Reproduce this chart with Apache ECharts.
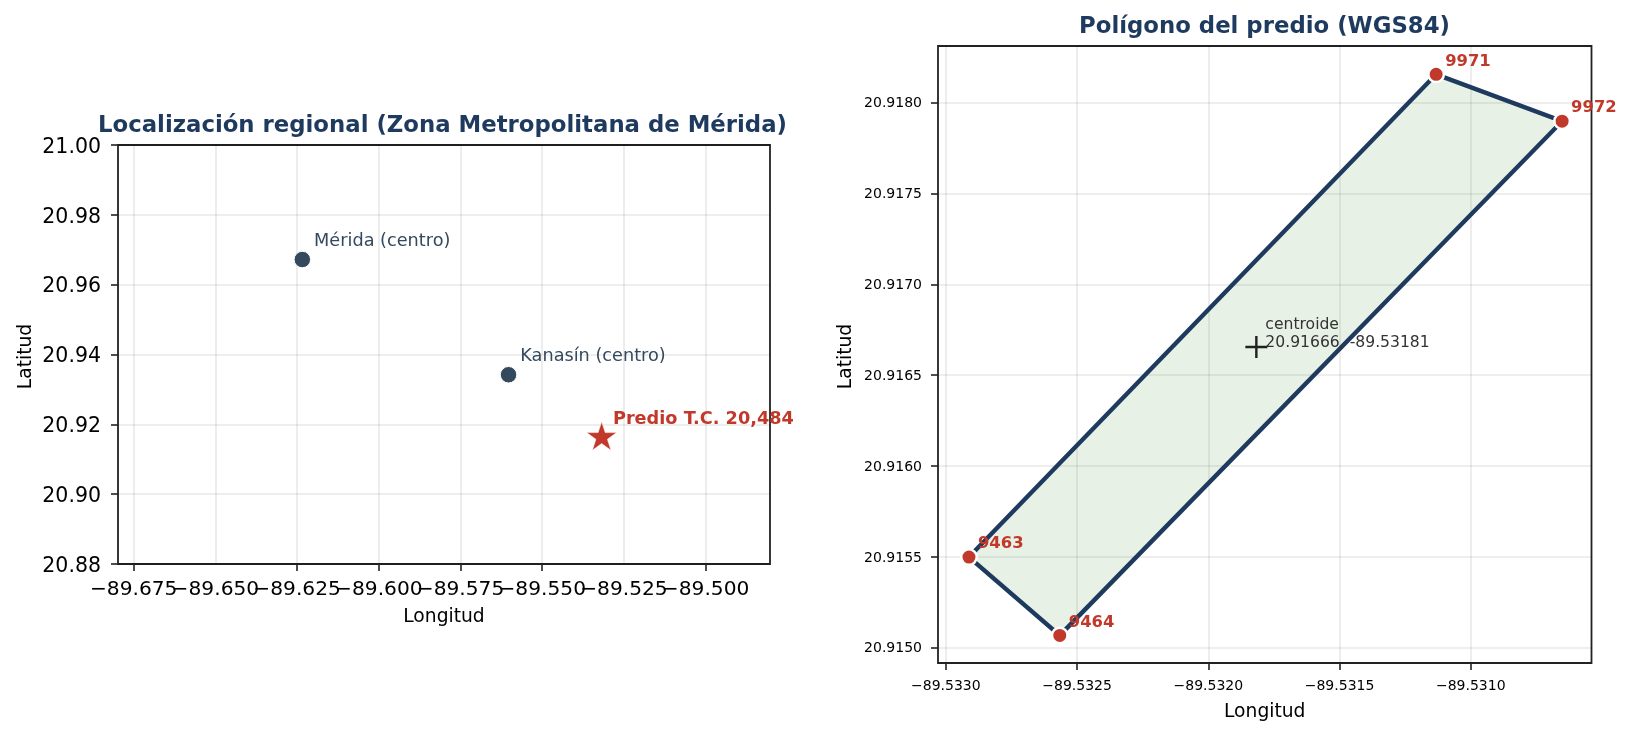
<!DOCTYPE html>
<html><head><meta charset="utf-8">
<style>html,body{margin:0;padding:0;background:#fff}#c{width:1631px;height:735px}</style>
<script src="https://cdn.jsdelivr.net/npm/echarts@6/dist/echarts.min.js"></script>
</head><body><div id="c"></div>
<script>
const regionTicksX=[-89.675,-89.65,-89.625,-89.6,-89.575,-89.55,-89.525,-89.5];
const regionTicksY=[20.88,20.9,20.92,20.94,20.96,20.98,21.0];
const towns=[["Mérida (centro)",-89.6234,20.9672],["Kanasín (centro)",-89.5603,20.9342]];
const site=["Predio T.C. 20,484",-89.53181,20.91666];
const parcelTicksX=[-89.533,-89.5325,-89.532,-89.5315,-89.531];
const parcelTicksY=[20.915,20.9155,20.916,20.9165,20.917,20.9175,20.918];
const parcel=[["9463",-89.532912,20.915499],["9971",-89.531132,20.918156],["9972",-89.530652,20.917898],["9464",-89.532566,20.915068]];
const centroid=["centroide\n20.91666, -89.53181",-89.531817,20.916655];

const F='"DejaVu Sans"';
const NAVY='#1f3a5f', RED='#c0392b', SLATE='#34495e';
const STAR='path://M50 0L61.8 36.3L100 36.3L69.1 58.8L80.9 95.1L50 72.7L19.1 95.1L30.9 58.8L0 36.3L38.2 36.3Z';
const PLUS='path://M44.5 0H55.5V44.5H100V55.5H55.5V100H44.5V55.5H0V44.5H44.5Z';
const minus=(d)=>(v)=>(v<0?'\u2212':'')+Math.abs(v).toFixed(d);
function axis(name,min,max,ticks,d,fs,gap,margin,extra,nameExtra){
  return {type:'value',name,nameLocation:'middle',nameGap:gap,min,max,scale:true,nameMoveOverlap:false,
    nameTextStyle:Object.assign({fontFamily:F,fontSize:18.7,color:'#000'},nameExtra||{}),
    axisLine:{show:false,onZero:false},
    axisTick:{show:true,length:7,inside:false,lineStyle:{color:'#222',width:1.6},customValues:ticks},
    axisLabel:Object.assign({show:true,interval:0,margin,fontFamily:F,fontSize:fs,color:'#000',customValues:ticks,formatter:minus(d),hideOverlap:false,showMinLabel:true,showMaxLabel:true},extra||{}),
    splitLine:{show:true,lineStyle:{color:'rgba(0,0,0,0.09)',width:1.6}}};
}
const polyData=parcel.map(p=>[p[1],p[2]]);
const hiddenRegionLabels=[regionTicksX[1],regionTicksX[6]];
const overlayX=axis('',-89.6798,-89.4803,hiddenRegionLabels,3,20.2,44,16);
overlayX.axisTick.show=false; overlayX.splitLine.show=false; overlayX.gridIndex=0; overlayX.position='bottom';
const opt={animation:false,backgroundColor:'#fff',
 title:[
  {text:'Localización regional (Zona Metropolitana de Mérida)',left:437.5,top:110,textAlign:'center',textStyle:{fontFamily:F,fontSize:22.8,fontWeight:'bold',color:NAVY}},
  {text:'Polígono del predio (WGS84)',left:1259.5,top:11,textAlign:'center',textStyle:{fontFamily:F,fontSize:22.8,fontWeight:'bold',color:NAVY}}
 ],
 grid:[
  {left:118,top:145,width:652,height:419,show:true,borderColor:'#222',borderWidth:1.8,backgroundColor:'transparent'},
  {left:938,top:46,width:653.5,height:617,show:true,borderColor:'#222',borderWidth:1.8,backgroundColor:'transparent'}
 ],
 xAxis:[
  Object.assign(axis('Longitud',-89.6798,-89.4803,regionTicksX,3,20.2,44,16),{gridIndex:0,position:'bottom'}),
  Object.assign(axis('Longitud',-89.53303,-89.53054,parcelTicksX,4,14,40,16),{gridIndex:1,position:'bottom'}),
  overlayX
 ],
 yAxis:[
  Object.assign(axis('Latitud',20.88,21.0,regionTicksY,2,20.5,82,17,{verticalAlign:'top',padding:[-8,0,0,0]},{padding:[0,4,0,0]}),{gridIndex:0}),
  Object.assign(axis('Latitud',20.914916,20.918312,parcelTicksY,4,14,82,16,{verticalAlign:'top',padding:[-6,0,0,0]},{padding:[0,4,0,0]}),{gridIndex:1})
 ],
 series:[
  {type:'scatter',xAxisIndex:0,yAxisIndex:0,symbol:'circle',symbolSize:16.5,clip:false,z:5,
   itemStyle:{color:SLATE,borderColor:'#fff',borderWidth:1,opacity:1},
   data:towns.map(t=>({name:t[0],value:[t[1],t[2]]})),
   label:{show:true,position:'right',distance:0,offset:[3,-18],formatter:'{b}',fontFamily:F,fontSize:17.7,color:SLATE}},
  {type:'scatter',xAxisIndex:0,yAxisIndex:0,symbol:STAR,symbolSize:[30,28.5],clip:false,z:6,
   itemStyle:{color:RED,borderColor:'#fff',borderWidth:0.5,opacity:1},
   data:[{name:site[0],value:[site[1],site[2]]}],
   label:{show:true,position:'right',distance:0,offset:[-4,-17],formatter:'{b}',fontFamily:F,fontSize:17.7,fontWeight:'bold',color:RED}},
  {type:'custom',xAxisIndex:1,yAxisIndex:1,coordinateSystem:'cartesian2d',clip:false,z:3,
   data:polyData,
   renderItem:(params,api)=>{
     if(params.dataIndex!==0) return null;
     return {type:'polygon',shape:{points:polyData.map(p=>api.coord(p))},
       style:{fill:'rgba(40,130,30,0.115)',stroke:NAVY,lineWidth:4.4,lineJoin:'miter'}};
   }},
  {type:'scatter',xAxisIndex:1,yAxisIndex:1,symbol:'circle',symbolSize:15.5,clip:false,z:5,
   itemStyle:{color:RED,borderColor:'#fff',borderWidth:2.5,opacity:1},
   data:parcel.map(p=>({name:p[0],value:[p[1],p[2]]})),
   label:{show:true,position:'right',distance:0,offset:[0,-13],formatter:'{b}',fontFamily:F,fontSize:16.4,fontWeight:'bold',color:RED}},
  {type:'scatter',xAxisIndex:1,yAxisIndex:1,symbol:PLUS,symbolSize:22,clip:false,z:6,
   itemStyle:{color:'#222',opacity:1},
   data:[{name:centroid[0],value:[centroid[1],centroid[2]]}],
   label:{show:true,position:'right',distance:0,offset:[-2,-13],formatter:'{b}',fontFamily:F,fontSize:15.6,color:'#333',lineHeight:18,align:'left'}}
 ]};
echarts.init(document.getElementById('c'),null,{renderer:'canvas'}).setOption(opt);
</script></body></html>
